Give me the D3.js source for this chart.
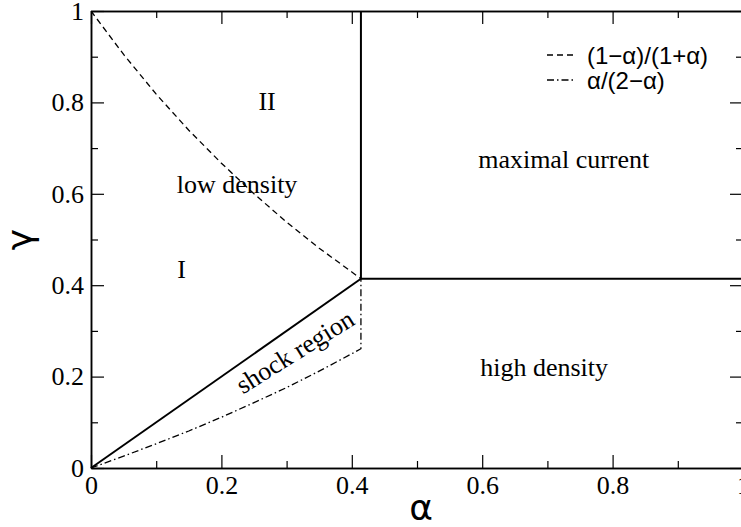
<!DOCTYPE html>
<html>
<head>
<meta charset="utf-8">
<script src="https://cdn.jsdelivr.net/npm/d3@7"></script>
<style>
  html, body { margin: 0; padding: 0; background: #fff; }
  svg { display: block; }
  .region { font-family: "Liberation Serif", "Times New Roman", serif; font-size: 26px; fill: #000; }
  .legend text { font-family: "Liberation Sans", Arial, sans-serif; font-size: 24px; fill: #000; }
</style>
</head>
<body>
<div id="chart"></div>
<script>
// Phase boundaries
// dashed: (1-a)/(1+a)
const dashAlpha = [0, 0.05, 0.1, 0.15, 0.2, 0.25, 0.3, 0.35, 0.4, 0.414];
const dashGamma = [1, 0.905, 0.818, 0.739, 0.667, 0.6, 0.538, 0.481, 0.429, 0.414];

// dash-dot: a/(2-a), then the vertical drop at alpha = 0.414
const dotAlpha = [0, 0.05, 0.1, 0.15, 0.2, 0.25, 0.3, 0.35, 0.4, 0.414, 0.414];
const dotGamma = [0, 0.026, 0.053, 0.081, 0.111, 0.143, 0.176, 0.212, 0.25, 0.261, 0.414];

// solid phase borders
const solidLines = [
  [[0, 0], [0.414, 0.414]],
  [[0.414, 0.414], [0.414, 1]],
  [[0.414, 0.414], [1, 0.414]]
];

const majorTicks = [0, 0.2, 0.4, 0.6, 0.8, 1];
const minorTicks = [0.1, 0.3, 0.5, 0.7, 0.9];

const regionLabels = [
  { text: 'II', a: 0.27, g: 0.801 },
  { text: 'low density', a: 0.224, g: 0.621 },
  { text: 'I', a: 0.139, g: 0.435 },
  { text: 'maximal current', a: 0.725, g: 0.676 },
  { text: 'high density', a: 0.695, g: 0.22 },
  { text: 'shock region', a: 0.313, g: 0.254, rot: -32 }
];

const legendItems = [
  { label: '(1\u2212\u03b1)/(1+\u03b1)', dash: '6,4' },
  { label: '\u03b1/(2\u2212\u03b1)', dash: '7,3,1.5,3' }
];

const W = 741, H = 527;
const svg = d3.select('#chart').append('svg')
  .attr('width', W).attr('height', H);

const x = d3.scaleLinear().domain([0, 1]).range([91, 743]);
const y = d3.scaleLinear().domain([0, 1]).range([468, 11]);

const fmt = d => (d === 0 || d === 1) ? String(d) : d.toFixed(1);

function styleAxis(g) {
  g.attr('font-family', '"Liberation Serif", "Times New Roman", serif')
    .attr('font-size', 26);
  g.selectAll('path.domain').attr('stroke', '#000').attr('stroke-width', 1.5);
  g.selectAll('.tick line').attr('stroke', '#000').attr('stroke-width', 1.2);
  g.selectAll('.tick text').attr('fill', '#000');
}

// bottom
svg.append('g').attr('transform', `translate(0,${y(0)})`)
  .call(d3.axisBottom(x).tickValues(majorTicks).tickFormat(fmt)
    .tickSizeInner(-13).tickSizeOuter(0).tickPadding(8))
  .call(styleAxis);
svg.append('g').attr('transform', `translate(0,${y(0)})`)
  .call(d3.axisBottom(x).tickValues(minorTicks).tickFormat('')
    .tickSizeInner(-7).tickSizeOuter(0))
  .call(styleAxis);
// top
svg.append('g').attr('transform', `translate(0,${y(1)})`)
  .call(d3.axisTop(x).tickValues(majorTicks).tickFormat('')
    .tickSizeInner(-13).tickSizeOuter(0))
  .call(styleAxis);
svg.append('g').attr('transform', `translate(0,${y(1)})`)
  .call(d3.axisTop(x).tickValues(minorTicks).tickFormat('')
    .tickSizeInner(-7).tickSizeOuter(0))
  .call(styleAxis);
// left
svg.append('g').attr('transform', `translate(${x(0)},0)`)
  .call(d3.axisLeft(y).tickValues(majorTicks).tickFormat(fmt)
    .tickSizeInner(-13).tickSizeOuter(0).tickPadding(7))
  .call(styleAxis);
svg.append('g').attr('transform', `translate(${x(0)},0)`)
  .call(d3.axisLeft(y).tickValues(minorTicks).tickFormat('')
    .tickSizeInner(-7).tickSizeOuter(0))
  .call(styleAxis);
// right
svg.append('g').attr('transform', `translate(${x(1)},0)`)
  .call(d3.axisRight(y).tickValues(majorTicks).tickFormat('')
    .tickSizeInner(-13).tickSizeOuter(0))
  .call(styleAxis);
svg.append('g').attr('transform', `translate(${x(1)},0)`)
  .call(d3.axisRight(y).tickValues(minorTicks).tickFormat('')
    .tickSizeInner(-7).tickSizeOuter(0))
  .call(styleAxis);

// axis titles
svg.append('text')
  .attr('x', 421).attr('y', 520)
  .attr('text-anchor', 'middle')
  .attr('font-family', '"DejaVu Sans", "Liberation Sans", sans-serif')
  .attr('font-size', 36)
  .text('\u03b1');
svg.append('text')
  .attr('transform', `translate(32,${(y(0) + y(1)) / 2}) rotate(-90)`)
  .attr('text-anchor', 'middle')
  .attr('font-family', '"DejaVu Sans", "Liberation Sans", sans-serif')
  .attr('font-size', 36)
  .text('\u03b3');

const line = d3.line().x(d => x(d[0])).y(d => y(d[1]));

// solid borders
svg.selectAll('.solid').data(solidLines).join('path')
  .attr('class', 'solid')
  .attr('d', line)
  .attr('fill', 'none').attr('stroke', '#000').attr('stroke-width', 2);

// dashed curve
svg.append('path')
  .datum(dashAlpha.map((a, i) => [a, dashGamma[i]]))
  .attr('d', line)
  .attr('fill', 'none').attr('stroke', '#000').attr('stroke-width', 1.3)
  .attr('stroke-dasharray', legendItems[0].dash);

// dash-dot curve
svg.append('path')
  .datum(dotAlpha.map((a, i) => [a, dotGamma[i]]))
  .attr('d', line)
  .attr('fill', 'none').attr('stroke', '#000').attr('stroke-width', 1.3)
  .attr('stroke-dasharray', legendItems[1].dash);

// region labels
svg.selectAll('.region').data(regionLabels).join('text')
  .attr('class', 'region')
  .attr('text-anchor', 'middle')
  .attr('dominant-baseline', 'central')
  .attr('transform', d => `translate(${x(d.a)},${y(d.g)}) rotate(${d.rot || 0})`)
  .text(d => d.text);

// legend
const legend = svg.append('g').attr('class', 'legend');
const leg = legend.selectAll('g').data(legendItems).join('g')
  .attr('transform', (d, i) => `translate(547,${55 + i * 25})`);
leg.append('line')
  .attr('x1', 0).attr('x2', 28).attr('y1', 0).attr('y2', 0)
  .attr('stroke', '#000').attr('stroke-width', 1.3)
  .attr('stroke-dasharray', d => d.dash);
leg.append('text')
  .attr('x', 40).attr('y', 0)
  .attr('dominant-baseline', 'central')
  .text(d => d.label);
</script>
</body>
</html>
